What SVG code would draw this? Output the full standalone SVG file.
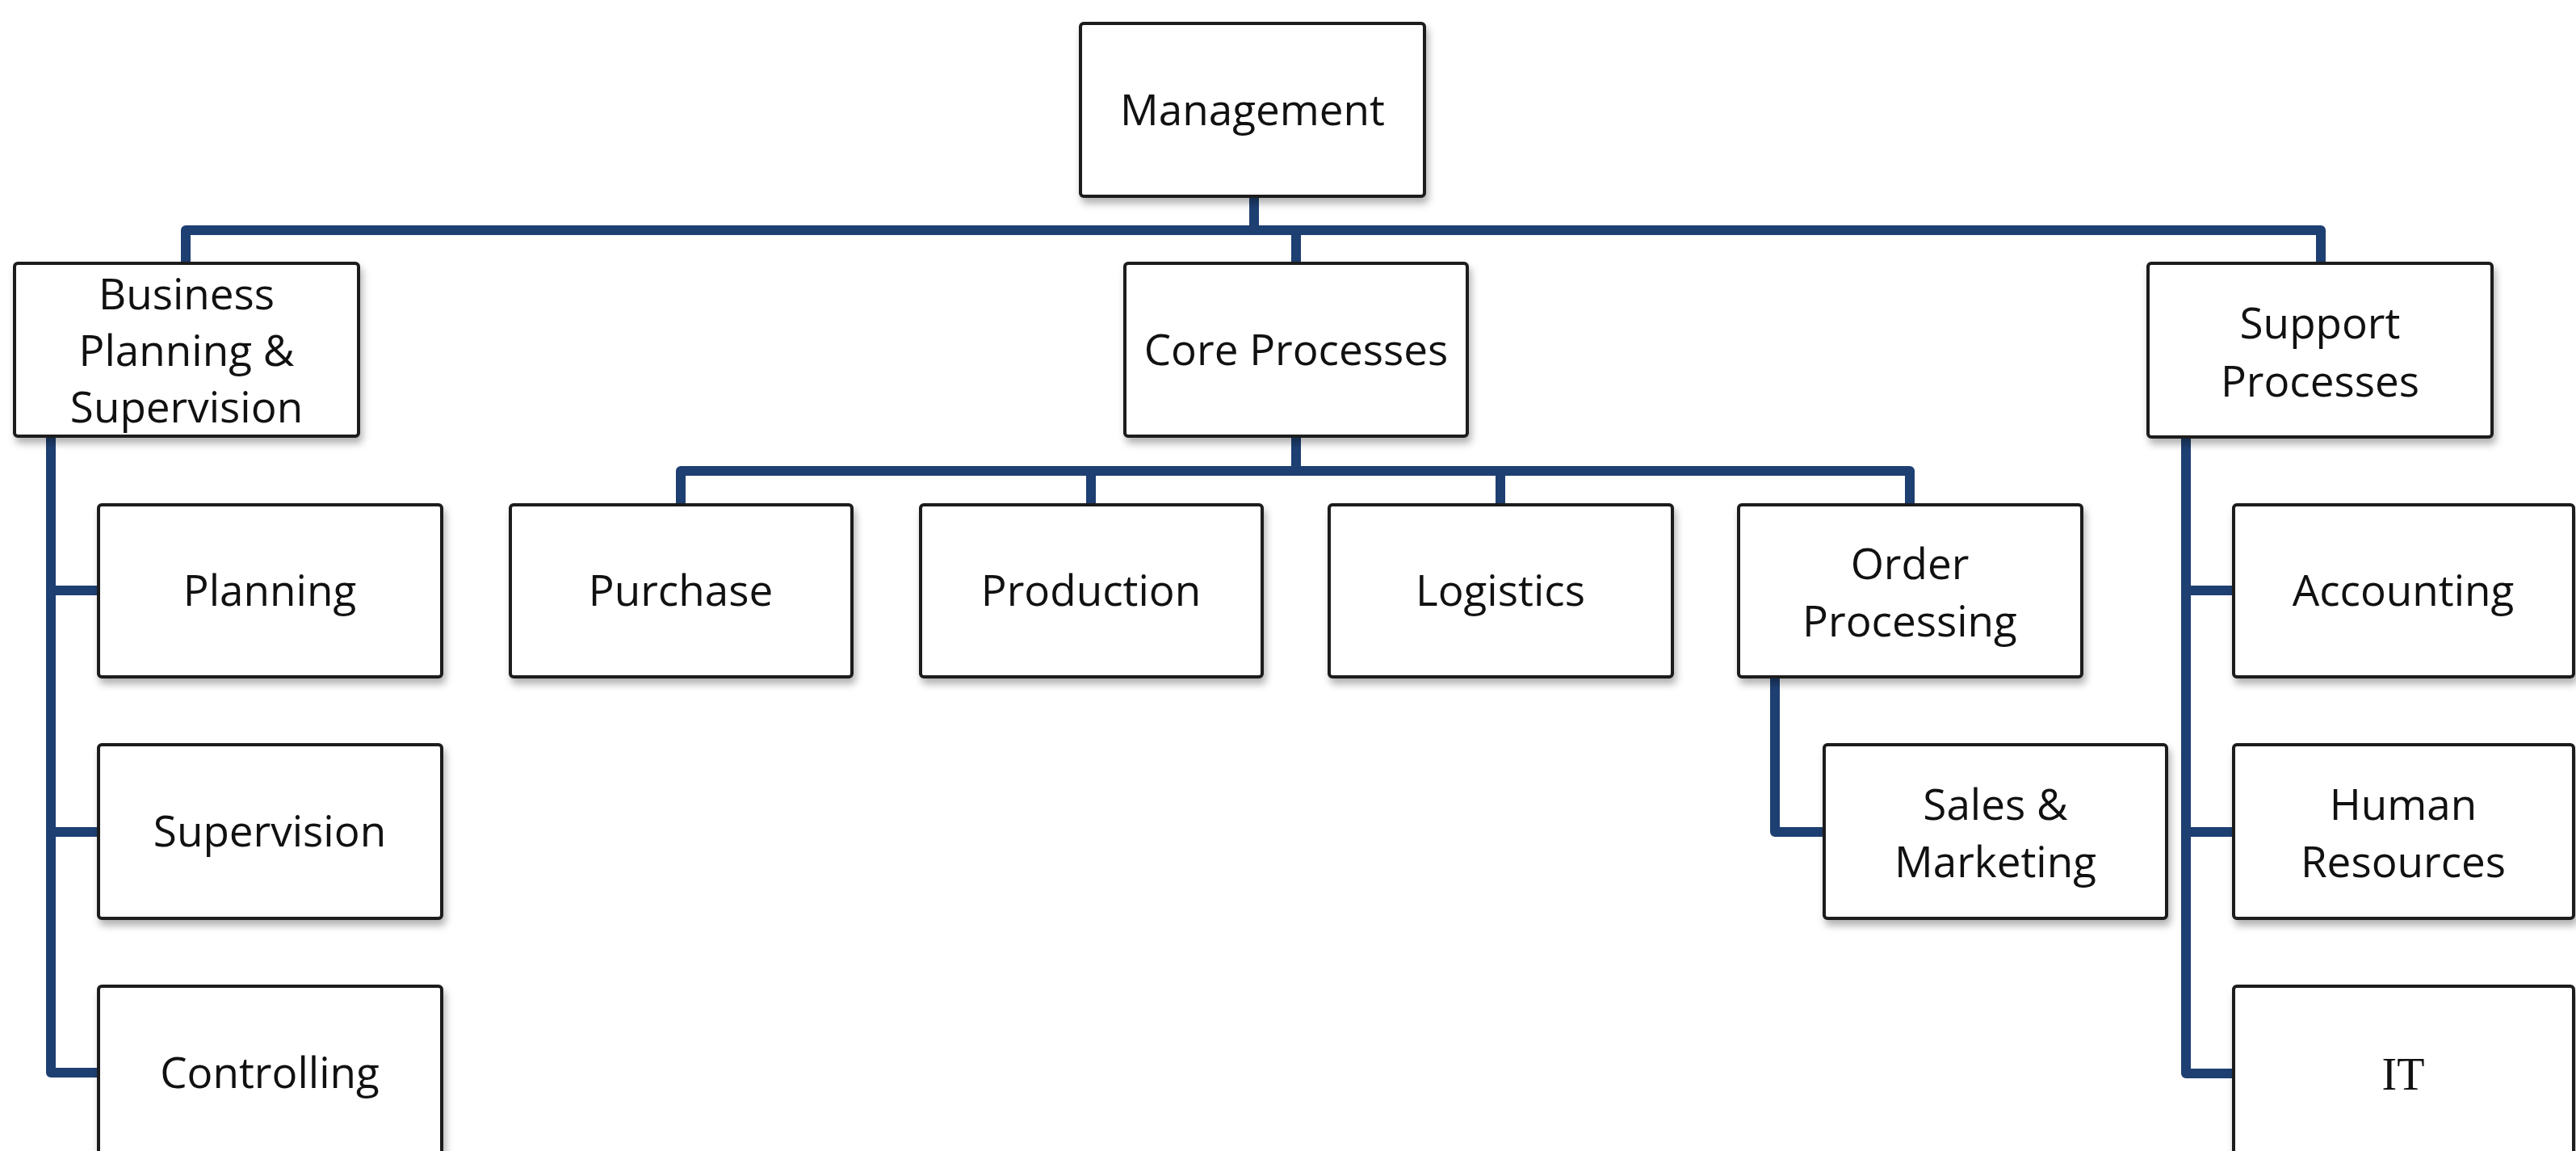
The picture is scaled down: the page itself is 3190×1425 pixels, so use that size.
<svg xmlns="http://www.w3.org/2000/svg" width="3190" height="1425" viewBox="0 0 3190 1425">
<defs>
<filter id="sh" x="-10%" y="-10%" width="125%" height="130%">
<feDropShadow dx="3" dy="7" stdDeviation="5" flood-color="#000" flood-opacity="0.3"/>
</filter>
<style>
.box{fill:#fff;stroke:#1a1a1a;stroke-width:4;filter:url(#sh)}
.t{font-family:"Open Sans","Noto Sans","Liberation Sans",sans-serif;font-size:53px;fill:#111;text-anchor:middle}
.s{font-family:"Liberation Serif","DejaVu Serif",serif;font-size:56px;fill:#111;text-anchor:middle}
.c{fill:none;stroke:#1e3f72;stroke-width:12;stroke-linejoin:round;stroke-linecap:butt}
</style>
</defs>
<rect width="3190" height="1425" fill="#fff"/>
<g id="connectors">
<path class="c" d="M1553 243 V285"/>
<path class="c" d="M230 326 V285 H2874 V326"/>
<path class="c" d="M1605 285 V326"/>
<path class="c" d="M1605 540 V583"/>
<path class="c" d="M843 625 V583 H2365 V625"/>
<path class="c" d="M1351 583 V625"/>
<path class="c" d="M1858 583 V625"/>
<path class="c" d="M63 540 V1328 H124"/>
<path class="c" d="M63 731 H124"/>
<path class="c" d="M63 1030 H124"/>
<path class="c" d="M2707 542 V1329 H2766"/>
<path class="c" d="M2707 731 H2766"/>
<path class="c" d="M2707 1030 H2766"/>
<path class="c" d="M2198 838 V1030 H2259"/>
</g>
<g id="management">
<rect class="box" x="1338" y="29" width="426" height="214" rx="4"/>
<text class="t" x="1551" y="155">Management</text>
</g>
<g id="business-planning">
<rect class="box" x="18" y="326" width="426" height="214" rx="4"/>
<text class="t" x="231" y="383">Business</text>
<text class="t" x="231" y="453">Planning &amp;</text>
<text class="t" x="231" y="523">Supervision</text>
</g>
<g id="core-processes">
<rect class="box" x="1393" y="326" width="424" height="214" rx="4"/>
<text class="t" x="1605" y="452">Core Processes</text>
</g>
<g id="support-processes">
<rect class="box" x="2660" y="326" width="426" height="215" rx="4"/>
<text class="t" x="2873" y="419">Support</text>
<text class="t" x="2873" y="491">Processes</text>
</g>
<g id="planning">
<rect class="box" x="122" y="625" width="425" height="213" rx="4"/>
<text class="t" x="334" y="750">Planning</text>
</g>
<g id="supervision">
<rect class="box" x="122" y="922" width="425" height="215" rx="4"/>
<text class="t" x="334" y="1048">Supervision</text>
</g>
<g id="controlling">
<rect class="box" x="122" y="1221" width="425" height="215" rx="4"/>
<text class="t" x="334" y="1347">Controlling</text>
</g>
<g id="purchase">
<rect class="box" x="632" y="625" width="423" height="213" rx="4"/>
<text class="t" x="843" y="750">Purchase</text>
</g>
<g id="production">
<rect class="box" x="1140" y="625" width="423" height="213" rx="4"/>
<text class="t" x="1351" y="750">Production</text>
</g>
<g id="logistics">
<rect class="box" x="1646" y="625" width="425" height="213" rx="4"/>
<text class="t" x="1858" y="750">Logistics</text>
</g>
<g id="order-processing">
<rect class="box" x="2153" y="625" width="425" height="213" rx="4"/>
<text class="t" x="2365" y="717">Order</text>
<text class="t" x="2365" y="788">Processing</text>
</g>
<g id="sales-marketing">
<rect class="box" x="2259" y="922" width="424" height="215" rx="4"/>
<text class="t" x="2471" y="1015">Sales &amp;</text>
<text class="t" x="2471" y="1086">Marketing</text>
</g>
<g id="accounting">
<rect class="box" x="2766" y="625" width="421" height="213" rx="4"/>
<text class="t" x="2976" y="750">Accounting</text>
</g>
<g id="human-resources">
<rect class="box" x="2766" y="922" width="421" height="215" rx="4"/>
<text class="t" x="2976" y="1015">Human</text>
<text class="t" x="2976" y="1086">Resources</text>
</g>
<g id="it">
<rect class="box" x="2766" y="1221" width="421" height="215" rx="4"/>
<text class="s" x="2976" y="1349">IT</text>
</g>
</svg>
